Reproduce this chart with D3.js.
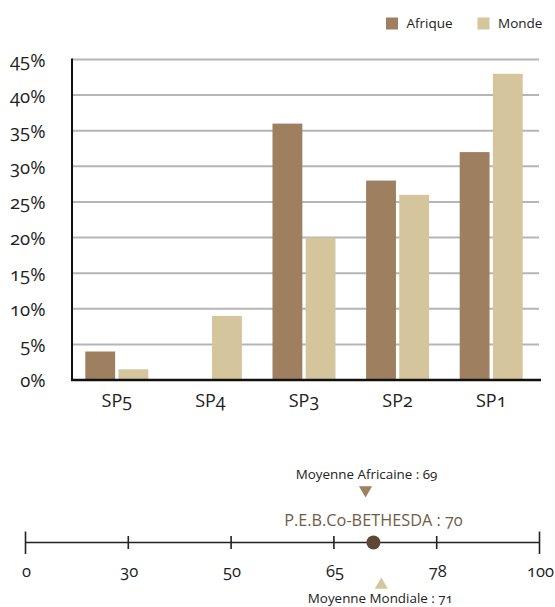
<!DOCTYPE html>
<html>
<head>
<meta charset="utf-8">
<script src="https://cdn.jsdelivr.net/npm/d3@7"></script>
<style>
  html, body { margin: 0; padding: 0; background: #fff; }
  svg { display: block; }
  text { font-family: "Open Sans", "Noto Sans", sans-serif; font-variant-numeric: oldstyle-nums; font-feature-settings: "onum" 1; fill: #222; }
</style>
</head>
<body>
<svg id="chart" width="555" height="607"></svg>
<script>
// Bar chart data: share per category for Africa and the world
const categories = ["SP5", "SP4", "SP3", "SP2", "SP1"];
const seriesNames = ["Afrique", "Monde"];
const afrique = [4, 0, 36, 28, 32];
const monde = [1.5, 9, 20, 26, 43];
const yTicks = [0, 5, 10, 15, 20, 25, 30, 35, 40, 45];

// Score scale below the chart
const scoreTicks = [0, 30, 50, 65, 78, 100];
const scoreOrg = { label: "P.E.B.Co-BETHESDA", value: 70 };
const scoreAfrica = { label: "Moyenne Africaine", value: 69 };
const scoreWorld = { label: "Moyenne Mondiale", value: 71 };

const colors = { Afrique: "#9e7f5f", Monde: "#d4c59c" };

const svg = d3.select("#chart");

// ---- Bar chart ----
const plot = { left: 72, right: 539, top: 59.5, bottom: 380 };

const y = d3.scaleLinear().domain([0, 45]).range([plot.bottom, plot.top]);
const x0 = d3.scaleBand().domain(categories).range([70, 538]).padding(0);
const x1 = d3.scaleBand().domain(seriesNames)
  .range([x0.bandwidth() / 2 - 31.5, x0.bandwidth() / 2 + 31.5])
  .paddingInner(0.1).paddingOuter(0);

// grid lines
svg.append("g")
  .selectAll("line")
  .data(yTicks.filter(d => d > 0))
  .join("line")
  .attr("x1", plot.left).attr("x2", plot.right)
  .attr("y1", d => y(d)).attr("y2", d => y(d))
  .attr("stroke", "#b5b5b5").attr("stroke-width", 2);

// y axis labels
const yAxis = d3.axisLeft(y).tickValues(yTicks).tickFormat(d => d + "%").tickSize(0).tickPadding(0);
const yg = svg.append("g").attr("transform", `translate(45.5,1)`).call(yAxis);
yg.select(".domain").remove();
yg.selectAll("text").attr("font-size", 18.5).style("font-family", null).attr("fill", "#222");

// bars
const rows = categories.map((c, i) => ({ cat: c, values: [
  { key: "Afrique", value: afrique[i] },
  { key: "Monde", value: monde[i] }
]}));

svg.append("g")
  .selectAll("g")
  .data(rows)
  .join("g")
  .attr("transform", d => `translate(${x0(d.cat)},0)`)
  .selectAll("rect")
  .data(d => d.values.filter(v => v.value > 0))
  .join("rect")
  .attr("x", d => x1(d.key))
  .attr("width", x1.bandwidth())
  .attr("y", d => y(d.value))
  .attr("height", d => y(0) - y(d.value))
  .attr("fill", d => colors[d.key]);

// axis lines
svg.append("line")
  .attr("x1", plot.left).attr("x2", plot.left)
  .attr("y1", plot.top - 1).attr("y2", plot.bottom + 1)
  .attr("stroke", "#111").attr("stroke-width", 2);
svg.append("line")
  .attr("x1", plot.left - 1).attr("x2", plot.right + 2)
  .attr("y1", plot.bottom).attr("y2", plot.bottom)
  .attr("stroke", "#111").attr("stroke-width", 2.5);

// x axis labels
const xAxis = d3.axisBottom(x0).tickSize(0).tickPadding(0);
const xg = svg.append("g").attr("transform", `translate(0,${plot.bottom + 26.5})`).call(xAxis);
xg.select(".domain").remove();
xg.selectAll("text").attr("font-size", 18).attr("dy", 0).style("font-family", null).attr("fill", "#222");

// legend
const legend = svg.append("g").attr("transform", "translate(386,17.5)");
const legendOffsets = [0, 91.5];
seriesNames.forEach((s, i) => {
  const g = legend.append("g").attr("transform", `translate(${legendOffsets[i]},0)`);
  g.append("rect").attr("width", 12).attr("height", 12).attr("fill", colors[s]);
  g.append("text").attr("x", 20.5).attr("y", 10.8).attr("font-size", 13.5).text(s);
});

// ---- Score scale ----
const axisY = 542.5;
const s = d3.scaleLinear()
  .domain(scoreTicks)
  .range(scoreTicks.map((d, i) => 25.5 + i * (539.5 - 25.5) / (scoreTicks.length - 1)));

svg.append("line")
  .attr("x1", s(0)).attr("x2", s(100))
  .attr("y1", axisY).attr("y2", axisY)
  .attr("stroke", "#222").attr("stroke-width", 1.6);

svg.append("g")
  .selectAll("line")
  .data(scoreTicks)
  .join("line")
  .attr("x1", d => s(d)).attr("x2", d => s(d))
  .attr("y1", (d, i) => (i === 0 || i === scoreTicks.length - 1) ? axisY - 11 : axisY - 6.5)
  .attr("y2", (d, i) => (i === 0 || i === scoreTicks.length - 1) ? axisY + 11.5 : axisY + 6.5)
  .attr("stroke", "#222").attr("stroke-width", 1.6);

svg.append("g")
  .selectAll("text")
  .data(scoreTicks)
  .join("text")
  .attr("x", d => s(d) + 1)
  .attr("y", axisY + 34.5)
  .attr("text-anchor", "middle")
  .attr("font-size", 16.5)
  .text(d => d);

// organisation marker
svg.append("circle")
  .attr("cx", s(scoreOrg.value)).attr("cy", axisY)
  .attr("r", 7).attr("fill", "#5e4835");
svg.append("text")
  .attr("x", s(scoreOrg.value)).attr("y", axisY - 16.5)
  .attr("text-anchor", "middle").attr("font-size", 16.3)
  .attr("fill", "#705b47").style("fill", "#705b47")
  .text(`${scoreOrg.label} : ${scoreOrg.value}`);

// Africa average (triangle pointing down, label above)
const tri = d3.symbol().type(d3.symbolTriangle).size(75);
svg.append("path")
  .attr("d", tri())
  .attr("transform", `translate(${s(scoreAfrica.value)},${490}) rotate(180)`)
  .attr("fill", "#9e7f5f");
svg.append("text")
  .attr("x", s(scoreAfrica.value) + 1).attr("y", 478.5)
  .attr("text-anchor", "middle").attr("font-size", 13.4)
  .text(`${scoreAfrica.label} : ${scoreAfrica.value}`);

// World average (triangle pointing up, label below)
svg.append("path")
  .attr("d", tri())
  .attr("transform", `translate(${s(scoreWorld.value)},${585})`)
  .attr("fill", "#d4c59c");
svg.append("text")
  .attr("x", s(scoreWorld.value) - 1).attr("y", 603)
  .attr("text-anchor", "middle").attr("font-size", 13.4)
  .text(`${scoreWorld.label} : ${scoreWorld.value}`);
</script>
</body>
</html>
